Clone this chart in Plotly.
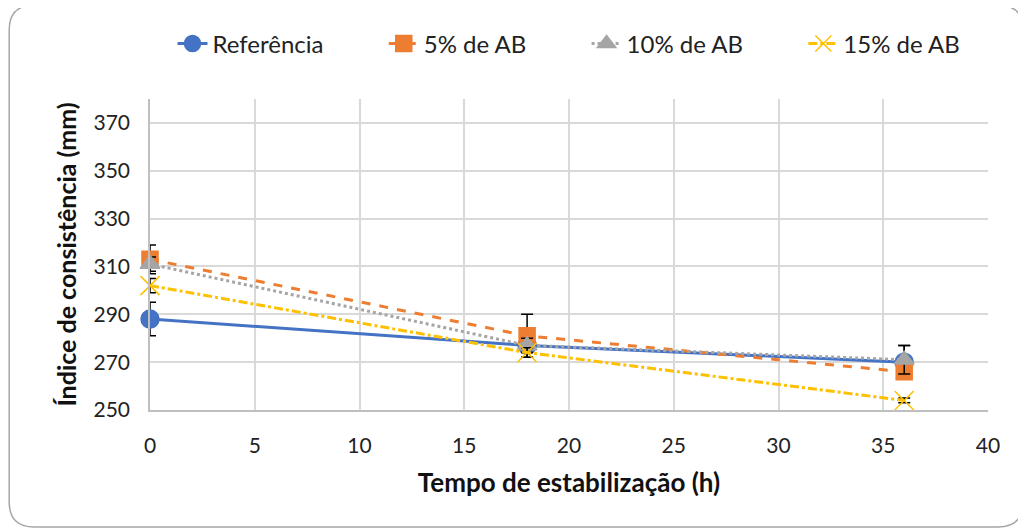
import plotly.graph_objects as go

tempo = [0, 18, 36]
ref = [288, 277, 270]
ab5 = [313, 281, 266]
ab10 = [311, 277, 271]
ab15 = [302, 274, 254]
err_ref = [7, 3, 7]
err_ab5 = [6, 9, 3]
err_ab10 = [3, 3, 6]
err_ab15 = [3, 2, 1]
names = ["Referência", "5% de AB", "10% de AB", "15% de AB"]

styles = [
    ("#4472C4", "solid", "circle", 18),
    ("#ED7D31", "dash", "square", 16),
    ("#A5A5A5", "dot", "triangle-up", 17),
    ("#FFC000", "dashdot", "x-thin", 19),
]
values = [ref, ab5, ab10, ab15]
errors = [err_ref, err_ab5, err_ab10, err_ab15]

PAD = "\u00a0" * 9
fig = go.Figure()
for i, (name, vals, err) in enumerate(zip(names, values, errors)):
    color, dash, sym, size = styles[i]
    fig.add_trace(go.Scatter(
        x=tempo, y=vals, name=name + (PAD if i < 3 else ""),
        mode="lines+markers", cliponaxis=False,
        line=dict(color=color, width=3, dash=dash),
        marker=dict(symbol=sym, size=size, color=color,
                    line=dict(color=color, width=1.5)),
        error_y=dict(type="data", array=err, visible=True,
                     color="black", thickness=1.5, width=6),
    ))

font = "Lato, 'Open Sans', sans-serif"
fig.update_layout(
    width=1026, height=529,
    margin=dict(l=142, r=46, t=91, b=127, autoexpand=False),
    paper_bgcolor="white", plot_bgcolor="white",
    font=dict(family=font, size=21, color="#222"),
    showlegend=True,
    legend=dict(orientation="h", x=0.5, xanchor="center", y=1.177,
                yanchor="middle", font=dict(size=24), itemwidth=30,
                traceorder="normal"),
    xaxis=dict(range=[0, 40], tickvals=[0, 5, 10, 15, 20, 25, 30, 35, 40],
               showgrid=True, gridcolor="#D9D9D9", gridwidth=1.5,
               zeroline=False, showline=True, linecolor="#BFBFBF", linewidth=1.5,
               ticks="", ticklabelstandoff=16,
               title=dict(text="<b>Tempo de estabilização (h)</b>",
                          font=dict(size=26, color="#111"), standoff=18)),
    yaxis=dict(range=[250, 380], tickvals=[250, 270, 290, 310, 330, 350, 370],
               showgrid=True, gridcolor="#D9D9D9", gridwidth=1.5,
               zeroline=False, showline=True, linecolor="#BFBFBF", linewidth=1.5,
               ticks="", ticklabelstandoff=14,
               title=dict(text="<b>Índice de consistência (mm)</b>",
                          font=dict(size=25, color="#111"), standoff=10)),
)

# rounded chart frame
x0, x1, y0, y1 = -0.168, 1.0418, -0.376, 1.302
rx, ry = 0.03, 0.08
path = (f"M {x0+rx} {y1} L {x1-rx} {y1} Q {x1} {y1} {x1} {y1-ry} "
        f"L {x1} {y0+ry} Q {x1} {y0} {x1-rx} {y0} L {x0+rx} {y0} "
        f"Q {x0} {y0} {x0} {y0+ry} L {x0} {y1-ry} Q {x0} {y1} {x0+rx} {y1} Z")
fig.add_shape(type="path", path=path, xref="paper", yref="paper",
              line=dict(color="#A6A6A6", width=1.5), layer="below")

fig.write_html("out.html")
